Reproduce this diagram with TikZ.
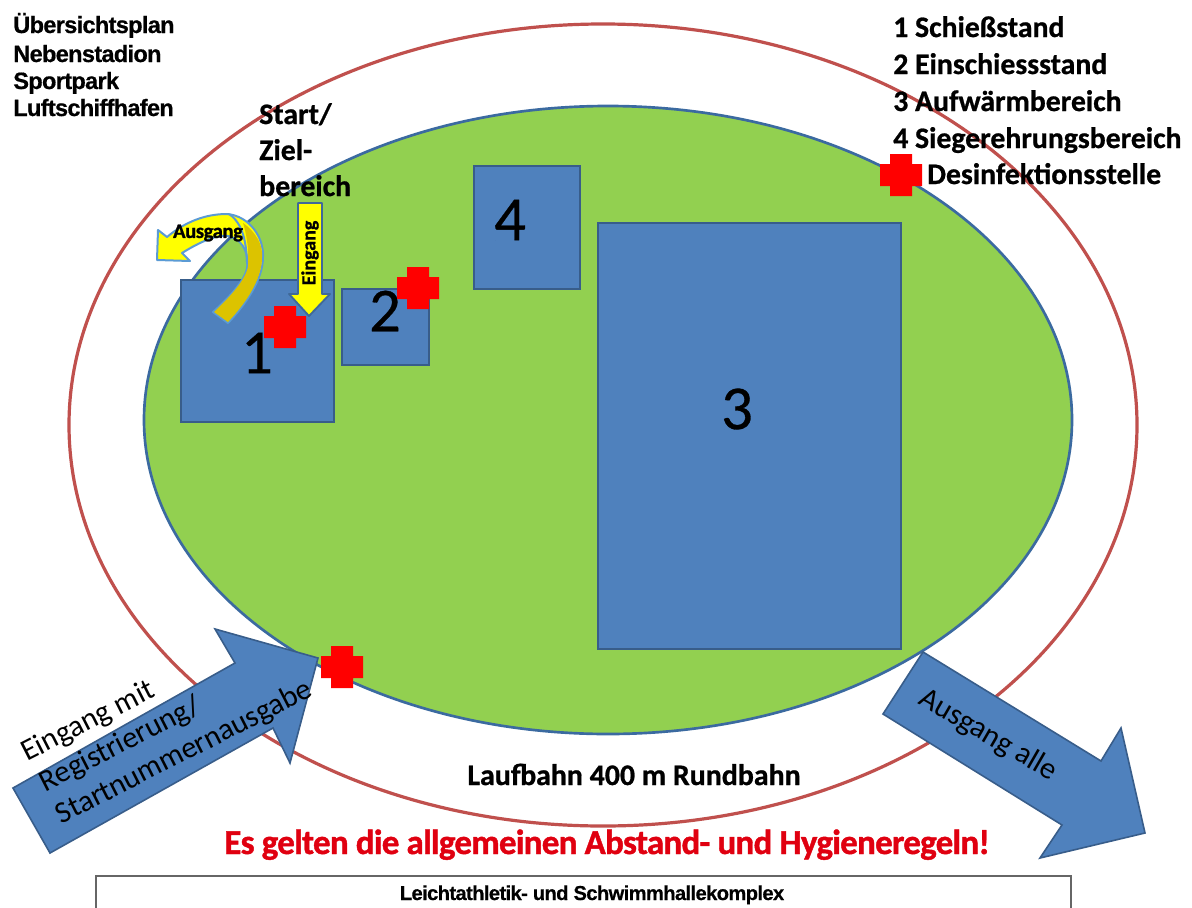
\documentclass[tikz,border=0pt]{standalone}
\usepackage{fontspec}
\setmainfont{Carlito}
\newfontfamily\arialf[LetterSpace=-3,FakeBold=0.6]{Liberation Sans Bold}
\newfontfamily\heavyf[FakeBold=0.8]{Carlito Bold}
\newfontfamily\tightf[LetterSpace=-2,FakeBold=1.2]{Carlito Bold}
\newfontfamily\numf[FakeBold=0.5]{Carlito}
\definecolor{trackred}{HTML}{C0504D}
\definecolor{fieldgreen}{HTML}{92D050}
\definecolor{fieldedge}{HTML}{3B6AA0}
\definecolor{boxblue}{HTML}{4F81BD}
\definecolor{boxedge}{HTML}{385D8A}
\definecolor{crossred}{HTML}{FF0000}
\definecolor{hintred}{HTML}{E00010}
\definecolor{arrowyellow}{HTML}{FFFF00}
\definecolor{arrowgold}{HTML}{DCC300}
\definecolor{curveedge}{HTML}{5B9BD5}
\newcommand{\fs}[1]{\fontsize{#1}{#1}\selectfont}
\tikzset{
  x=0.75pt,y=-0.75pt,
  areabox/.style={draw=boxedge,line width=1.6pt,fill=boxblue},
  bignum/.style={font=\numf\fs{47},text=black,inner sep=0pt},
  legend/.style={font=\heavyf\fs{22.3},anchor=base west,inner sep=0pt,text=black},
  plan/.style={font=\arialf\fs{17.7},anchor=base west,inner sep=0pt,text=black},
  bigarrow/.style={draw=boxedge,line width=1.2pt,fill=boxblue},
  arrowtext/.style={font=\fs{22.8},inner sep=0pt,text=black,anchor=base},
  crossmark/.style={fill=crossred,draw=none},
}
\newcommand{\redcross}[2]{%
  \fill[crossmark] (#1-21,#2-11) -- (#1-11,#2-11) -- (#1-11,#2-21) -- (#1+11,#2-21) -- (#1+11,#2-11) -- (#1+21,#2-11) -- (#1+21,#2+11) -- (#1+11,#2+11) -- (#1+11,#2+21) -- (#1-11,#2+21) -- (#1-11,#2+11) -- (#1-21,#2+11) -- cycle;}
\begin{document}
\begin{tikzpicture}
\useasboundingbox (0,0) rectangle (1192,907);
\fill[white] (0,0) rectangle (1192,907);
% ellipses
\draw[trackred,line width=2.4pt] (603,425) ellipse [x radius=534,y radius=401];
\draw[fill=fieldgreen,draw=fieldedge,line width=2pt] (608,420) ellipse [x radius=464,y radius=314];
% areas
\draw[areabox] (181,280) rectangle (334,422);
\draw[areabox] (342,289) rectangle (429,365);
\draw[areabox] (474,166) rectangle (580,289);
\draw[areabox] (598,223) rectangle (901,649);
\node[bignum] (n1) at (257,353) {1};
\node[bignum] (n2) at (385,311) {2};
\node[bignum] (n4) at (510,220) {4};
\node[bignum] (n3) at (737,409) {3};
% crosses
\redcross{285}{327}
\redcross{418}{288}
\redcross{342}{667}
\redcross{901}{175}
% curved exit arrow
\draw[curveedge,line width=1.5pt,fill=arrowyellow,line join=round]
  (157,260) -- (158,230) -- (167,237) .. controls (185,222) and (205,214) .. (227,214)
  .. controls (250,216) and (264,238) .. (263,257)
  .. controls (263,280) and (245,305) .. (228,323) -- (213,312)
  .. controls (232,295) and (250,275) .. (247,262)
  .. controls (248,250) and (240,238) .. (228,236)
  .. controls (215,234) and (195,245) .. (182,253) -- (190,261) -- cycle;
\fill[arrowgold] (243,223) .. controls (256,232) and (263,245) .. (262,257)
  .. controls (262,280) and (245,304) .. (228,322) -- (214,312)
  .. controls (232,295) and (250,275) .. (248,262)
  .. controls (249,248) and (246,232) .. (243,223) -- cycle;
\draw[curveedge,line width=1.5pt] (229,214) .. controls (238,220) and (246,232) .. (247,262);
\node[font=\tightf\fs{15.5},inner sep=0pt,text=black] (ausg) at (208,233) {Ausgang};
% entrance arrow
\draw[boxedge!80!curveedge,line width=1.4pt,fill=arrowyellow,line join=round]
  (298,203) -- (322,203) -- (322,294) -- (330,294) -- (309,316) -- (289,294) -- (298,294) -- cycle;
\node[font=\heavyf\fs{15},inner sep=0pt,rotate=90,text=black] (eing) at (310,253) {Eingang};
% start label
\node[legend] (st1) at (259,124) {Start/};
\node[legend] (st2) at (259,160) {Ziel-};
\node[legend] (st3) at (259,196) {bereich};
% plan title
\node[plan] (p1) at (13,33) {Übersichtsplan};
\node[plan] (p2) at (13,62) {Nebenstadion};
\node[plan] (p3) at (13,89) {Sportpark};
\node[plan] (p4) at (13,116) {Luftschiffhafen};
% legend
\node[legend] (l1) at (893,37) {1 Schießstand};
\node[legend] (l2) at (893,74) {2 Einschiessstand};
\node[legend] (l3) at (893,111) {3 Aufwärmbereich};
\node[legend] (l4) at (893,148) {4 Siegerehrungsbereich};
\node[legend] (l5) at (927,184) {Desinfektionsstelle};
% big arrows
\draw[bigarrow,line join=miter] (13,788) -- (235,663) -- (215,629) -- (318,658) -- (290,763) -- (273,728) -- (50,853) -- cycle;
\draw[bigarrow,line join=miter] (923,652) -- (1101,761) -- (1121,728) -- (1145,833) -- (1040,858) -- (1062,825) -- (883,714) -- cycle;
\node[arrowtext,rotate=27] (in1) at (92,729) {Eingang mit};
\node[arrowtext,rotate=27] (in2) at (124,752) {Registrierung/};
\node[arrowtext,rotate=27] (in3) at (188,760) {Startnummernausgabe};
\node[arrowtext,rotate=-30] (out) at (984,742) {Ausgang alle};
% bottom
\node[font=\heavyf\fs{22.4},inner sep=0pt,anchor=base,text=black] (lauf) at (634,785) {Laufbahn 400 m Rundbahn};
\node[font=\tightf\fs{26.2},text=hintred,inner sep=0pt,anchor=base] (regel) at (607,854) {Es gelten die allgemeinen Abstand- und Hygieneregeln!};
\draw[gray!80!black,line width=1pt] (96,915) -- (96,876) -- (1071,876) -- (1071,915);
\node[font=\arialf\fs{15.1},inner sep=0pt,anchor=base,text=black] (komplex) at (592,900) {Leichtathletik- und Schwimmhallekomplex};
\end{tikzpicture}
\end{document}
